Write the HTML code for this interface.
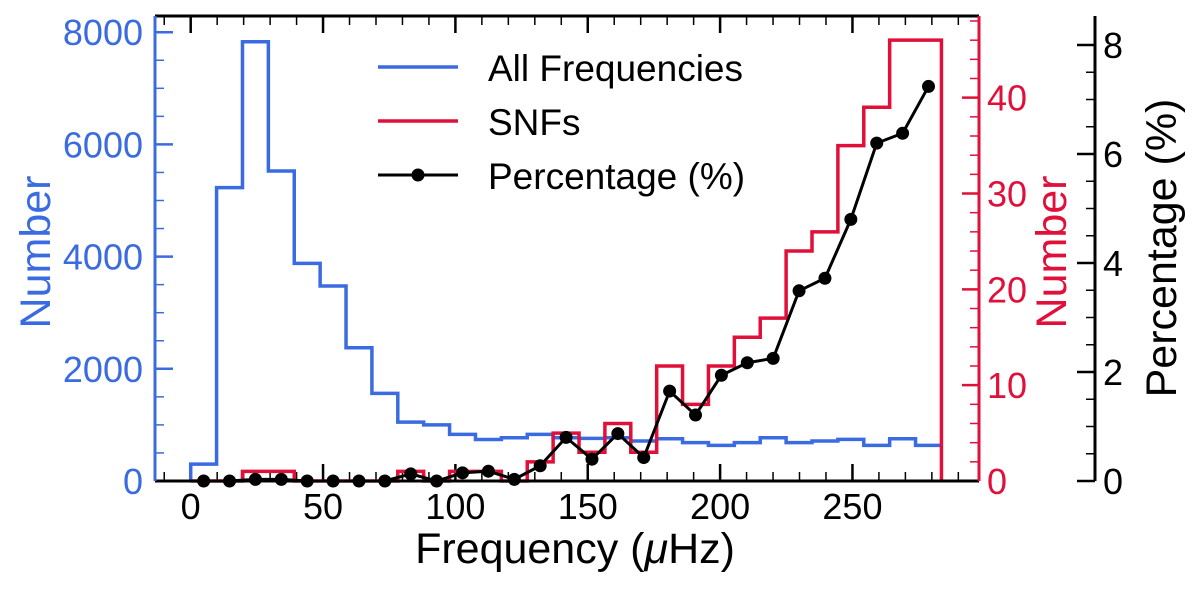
<!DOCTYPE html>
<html><head><meta charset="utf-8"><style>
html,body{margin:0;padding:0;background:#fff;}
svg{display:block;font-family:"Liberation Sans",Arial,sans-serif;}
</style></head><body>
<svg id="chart" width="1200" height="595" viewBox="0 0 1200 595"></svg>
<script>
const binWidth = 9.78;
const allFreqCounts = [300,5230,7830,5525,3880,3475,2375,1563,1050,1000,830,740,772,832,772,760,772,713,754,683,636,683,772,683,713,743,636,754,636];
const snfCounts = [0,0,1,1,0,0,0,0,1,0,1,1,0,2,5,3,6,3,12,8,12,15,17,24,26,35,39,46,46];
const percentages = [0,0,0.03,0.03,0,0,0,0,0.13,0,0.15,0.18,0.03,0.28,0.8,0.4,0.87,0.43,1.65,1.21,1.94,2.17,2.25,3.49,3.72,4.8,6.2,6.38,7.24];
const xTicks = [0,50,100,150,200,250];
const leftTicks = [0,2000,4000,6000,8000];
const redTicks = [0,10,20,30,40];
const pctTicks = [0,2,4,6,8];

const NS="http://www.w3.org/2000/svg";
const svg=document.getElementById('chart');
const L=155,R=979,T=16,B=481,AX2=1095;
const BLUE='#3b6be0',RED='#e0103a';
const xs=v=>190.7+(v)*2.647;
const yL=v=>B-v*0.0561;
const yR=v=>B-v*9.583;
const yP=v=>B-v*54.5;
function el(tag,attrs,parent){const e=document.createElementNS(NS,tag);for(const k in attrs)e.setAttribute(k,attrs[k]);(parent||svg).appendChild(e);return e;}
function txt(s,attrs,parent){const e=el('text',attrs,parent);e.textContent=s;return e;}

const tg=el('g',{});


for(let v=-10;v<=290;v+=10){
  const x=xs(v);
  const major=v%50===0;
  const len=major?17:9;
  el('line',{x1:x,x2:x,y1:B,y2:B-len,stroke:'#000','stroke-width':major?2.5:1.5},tg);
  el('line',{x1:x,x2:x,y1:T,y2:T+len,stroke:'#000','stroke-width':major?2.5:1.5},tg);
}
xTicks.forEach(v=>{
  const t=txt(String(v),{x:xs(v),y:519,'font-size':36,'text-anchor':'middle',fill:'#000'});
  
  
});
for(let v=0;v<=8250;v+=500){
  const y=yL(v);const major=v%2000===0;
  el('line',{x1:L,x2:L+(major?18:9),y1:y,y2:y,stroke:BLUE,'stroke-width':major?2.5:1.5});
}
leftTicks.forEach(v=>{
  const t=txt(String(v),{x:143,y:yL(v)+13,'font-size':36,'text-anchor':'end',fill:BLUE});
  
  
});
for(let v=0;v<=48;v+=2){
  const y=yR(v);const major=v%10===0;
  el('line',{x1:R,x2:R-(major?17:9),y1:y,y2:y,stroke:RED,'stroke-width':major?2.5:1.5});
}
redTicks.forEach(v=>{
  const t=txt(String(v),{x:987,y:yR(v)+13,'font-size':36,'text-anchor':'start',fill:RED});
  
  
});
for(let v=0;v<=8.4;v+=0.5){
  const y=yP(v);const major=Math.abs(v%2)<1e-6;
  el('line',{x1:AX2,x2:AX2-(major?18:9),y1:y,y2:y,stroke:'#000','stroke-width':major?2.5:1.5});
}
pctTicks.forEach(v=>{
  const t=txt(String(v),{x:1103,y:yP(v)+13,'font-size':36,'text-anchor':'start',fill:'#000'});
  
  
});

let d='M'+xs(0)+','+B;
allFreqCounts.forEach((c,i)=>{d+=' L'+xs(i*binWidth)+','+yL(c)+' L'+xs((i+1)*binWidth)+','+yL(c);});
const bp=el('path',{d:d,fill:'none',stroke:BLUE,'stroke-width':3.5});


d='M'+xs(0)+','+B;
snfCounts.forEach((c,i)=>{d+=' L'+xs(i*binWidth)+','+yR(c)+' L'+xs((i+1)*binWidth)+','+yR(c);});
d+=' L'+xs(snfCounts.length*binWidth)+','+B;
const rp=el('path',{d:d,fill:'none',stroke:RED,'stroke-width':3.5});


const pts=percentages.map((p,i)=>[xs((i+0.5)*binWidth),yP(p)]);
const pl=el('polyline',{points:pts.map(p=>p.join(',')).join(' '),fill:'none',stroke:'#000','stroke-width':3});


pts.forEach(p=>{
  const c=el('circle',{cx:p[0],cy:p[1],r:6.5,fill:'#000'});
  
  
});

el('line',{x1:L,x2:R,y1:T,y2:T,stroke:'#000','stroke-width':3});
el('line',{x1:L,x2:R,y1:B,y2:B,stroke:'#000','stroke-width':3});
el('line',{x1:L,x2:L,y1:T,y2:B,stroke:BLUE,'stroke-width':3});
el('line',{x1:R,x2:R,y1:T,y2:B,stroke:RED,'stroke-width':3});
el('line',{x1:AX2,x2:AX2,y1:T,y2:B,stroke:'#000','stroke-width':3});

const xt=txt('',{x:575,y:563,'font-size':43,'text-anchor':'middle',fill:'#000'});
xt.innerHTML='Frequency (<tspan font-style="italic">μ</tspan>Hz)';


const yl=txt('Number',{x:0,y:0,'font-size':43,'text-anchor':'middle',fill:BLUE,transform:'translate(50,252) rotate(-90)'});


const yr=txt('Number',{x:0,y:0,'font-size':43,'text-anchor':'middle',fill:RED,transform:'translate(1066,252) rotate(-90)'});


const yp=txt('Percentage (%)',{x:0,y:0,'font-size':43,'text-anchor':'middle',fill:'#000',transform:'translate(1176,248) rotate(-90)'});



const lg=el('g',{});


el('line',{x1:378,x2:458,y1:67,y2:67,stroke:BLUE,'stroke-width':3.5},lg);
el('line',{x1:378,x2:458,y1:121,y2:121,stroke:RED,'stroke-width':3.5},lg);
el('line',{x1:378,x2:458,y1:175,y2:175,stroke:'#000','stroke-width':3},lg);
el('circle',{cx:418,cy:175,r:6.5,fill:'#000'},lg);
txt('All Frequencies',{x:488,y:81,'font-size':37,fill:'#000'},lg);
txt('SNFs',{x:488,y:135,'font-size':37,fill:'#000'},lg);
txt('Percentage (%)',{x:488,y:189,'font-size':37,fill:'#000'},lg);
</script>
</body></html>
